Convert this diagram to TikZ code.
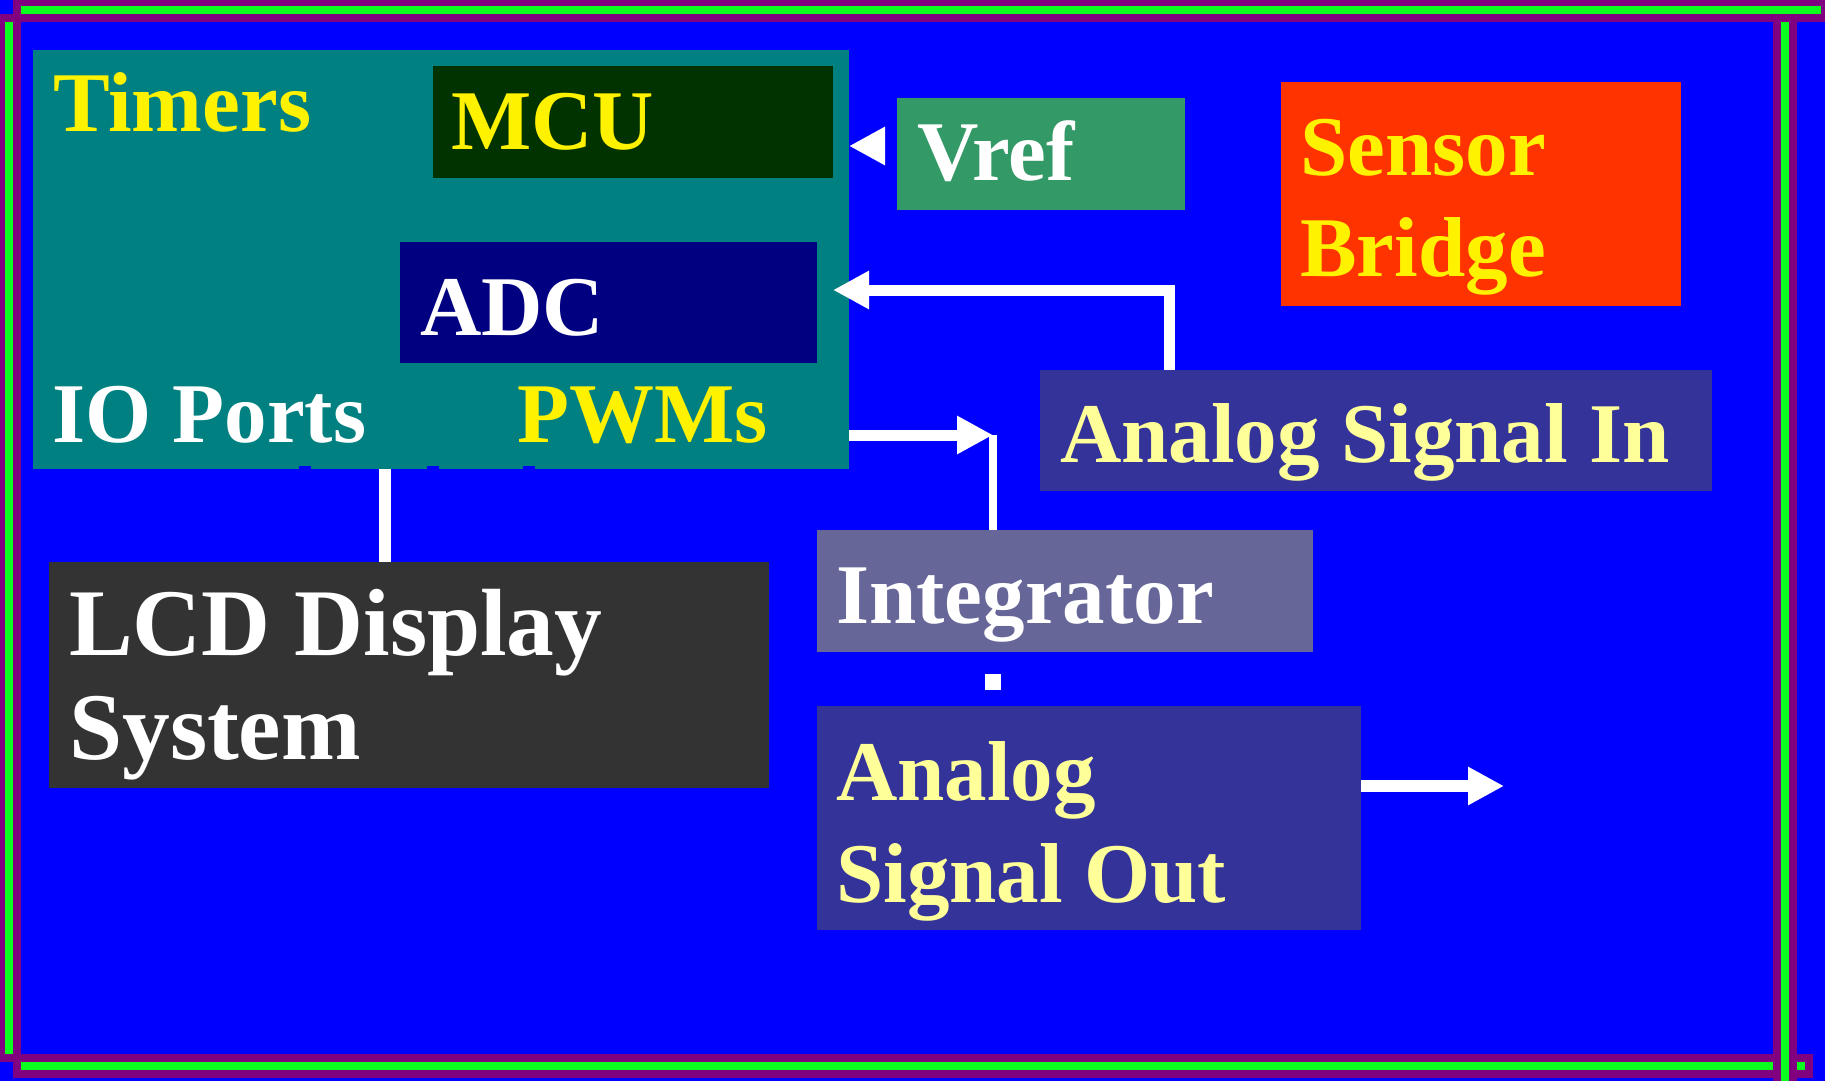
\documentclass[tikz,border=0pt]{standalone}
\usepackage{fontspec}
\setmainfont{Liberation Serif}
\usetikzlibrary{arrows.meta}
\definecolor{bgblue}{RGB}{0,0,255}
\definecolor{framepurple}{RGB}{128,0,128}
\definecolor{framegreen}{RGB}{10,255,30}
\definecolor{mcuteal}{RGB}{0,128,128}
\definecolor{coregreen}{RGB}{0,51,0}
\definecolor{adcnavy}{RGB}{0,0,128}
\definecolor{vrefgreen}{RGB}{51,153,102}
\definecolor{sensorred}{RGB}{255,51,0}
\definecolor{signalblue}{RGB}{51,51,153}
\definecolor{integgray}{RGB}{102,102,153}
\definecolor{lcdgray}{RGB}{51,51,51}
\definecolor{paleyellow}{RGB}{255,255,153}
\begin{document}
\begin{tikzpicture}[x=1pt,y=-1pt,
  box/.style={inner sep=0pt,outer sep=0pt},
  lbl/.style={inner sep=0pt,anchor=base west,font=\bfseries\fontsize{85}{102}\selectfont},
  biglbl/.style={lbl,font=\bfseries\fontsize{95.5}{104}\selectfont},
  arr/.style={white,line width=11pt,-{Triangle[length=36pt,width=36pt]}},
  wline/.style={white,line width=8pt}]
\useasboundingbox (0,0) rectangle (1825,1081);
\fill[bgblue] (0,0) rectangle (1825,1081);
% frame
\fill[framepurple] (-3,14) rectangle (21,1062);
\fill[framegreen] (5,22) rectangle (13,1054);
\fill[framepurple] (13,1054) rectangle (1813,1078);
\fill[framegreen] (21,1062) rectangle (1805,1070);
\fill[framepurple] (1773,14) rectangle (1797,1090);
\fill[framegreen] (1781,22) rectangle (1789,1090);
\fill[framepurple] (13,-2) rectangle (1829,22);
\fill[framegreen] (21,6) rectangle (1821,14);
% boxes
\node[box,fill=mcuteal,minimum width=816pt,minimum height=419pt] (mcu) at (441,259.5) {};
\node[box,fill=coregreen,minimum width=400pt,minimum height=112pt] (mcucore) at (633,122) {};
\node[box,fill=adcnavy,minimum width=417pt,minimum height=121pt] (adc) at (608.5,302.5) {};
\node[box,fill=vrefgreen,minimum width=288pt,minimum height=112pt] (vref) at (1041,154) {};
\node[box,fill=sensorred,minimum width=400pt,minimum height=224pt] (sensor) at (1481,194) {};
\node[box,fill=signalblue,minimum width=672pt,minimum height=121pt] (sigin) at (1376,430.5) {};
\node[box,fill=integgray,minimum width=496pt,minimum height=122pt] (integ) at (1065,591) {};
\node[box,fill=lcdgray,minimum width=720pt,minimum height=226pt] (lcd) at (409,675) {};
\node[box,fill=signalblue,minimum width=544pt,minimum height=224pt] (sigout) at (1089,818) {};
\foreach \nx in {299,427,523}
  \fill[bgblue] (\nx,466) rectangle ++(12,3);
% labels
\node[lbl,yellow] (tTimers) at (53,131) {Timers};
\node[lbl,yellow] (tMcu) at (451,149) {MCU};
\node[lbl,white] (tVref) at (917,180) {Vref};
\node[lbl,white] (tAdc) at (420,335) {ADC};
\node[lbl,white] (tIo) at (52,442) {IO Ports};
\node[lbl,yellow] (tPwm) at (517,442) {PWMs};
\node[lbl,yellow] (tSensor) at (1300,175) {Sensor};
\node[lbl,yellow] (tBridge) at (1300,276) {Bridge};
\node[lbl,paleyellow] (tSigin) at (1060,462) {Analog Signal In};
\node[lbl,white] (tInteg) at (836,623) {Integrator};
\node[biglbl,white] (tLcd) at (69,655) {LCD Display};
\node[biglbl,white] (tSystem) at (69,759) {System};
\node[lbl,paleyellow] (tAnalog) at (836,800) {Analog};
\node[lbl,paleyellow] (tSigout) at (836,902) {Signal Out};
% connectors
\draw[arr,shorten <=12pt] ([yshift=8pt]vref.west) -- ([yshift=8pt]vref.west -| mcu.east);
\coordinate (inbend) at (1169,290);
\draw[arr,line join=miter] (inbend |- sigin.north) |- (inbend -| mcucore.east);
\coordinate (pwmbend) at (993,435);
\draw[arr] (pwmbend -| mcu.east) -- (pwmbend);
\draw[wline] (pwmbend) -- (pwmbend |- integ.north);
\coordinate (iobus) at (385,0);
\draw[white,line width=12pt] (iobus |- mcu.south) -- (iobus |- lcd.north);
\node[box,fill=white,minimum size=16pt] (tick) at (993,682) {};
\coordinate (outend) at (1504,786);
\draw[arr,line width=12pt] (outend -| sigout.east) -- (outend);
\end{tikzpicture}
\end{document}
